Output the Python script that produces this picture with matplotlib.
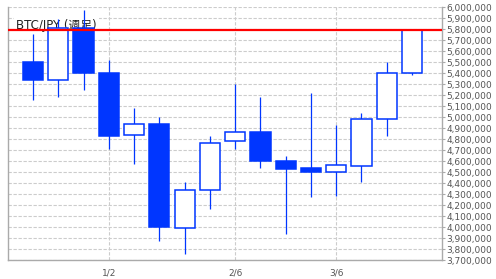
import numpy as np
import matplotlib
matplotlib.use('Agg')
from matplotlib import pyplot as plt
from matplotlib.ticker import FuncFormatter, MultipleLocator

plt.rcParams['font.family'] = ['DejaVu Sans', 'Noto Sans CJK JP']

# weekly BTC/JPY candles (week starting)
weeks = ['12/12', '12/19', '12/26', '1/2', '1/9', '1/16', '1/23', '1/30',
         '2/6', '2/13', '2/20', '2/27', '3/6', '3/13', '3/20', '3/27']
opens = [5500000, 5340000, 5810000, 5400000, 4835000, 4940000, 3990000, 4340000,
         4780000, 4870000, 4600000, 4540000, 4500000, 4560000, 4980000, 5400000]
closes = [5340000, 5810000, 5400000, 4830000, 4935000, 4000000, 4340000, 4770000,
          4870000, 4600000, 4530000, 4500000, 4565000, 4980000, 5400000, 5795000]
highs = [5760000, 5890000, 5975000, 5520000, 5085000, 5000000, 4410000, 4830000,
         5300000, 5180000, 4650000, 5220000, 4930000, 5040000, 5500000, 5795000]
lows = [5160000, 5180000, 5250000, 4710000, 4577000, 3876000, 3758000, 4167000,
        4713000, 4541000, 3940000, 4277000, 4285000, 4410000, 4829000, 5387000]
tick_weeks = ['1/2', '2/6', '3/6']
title = 'BTC/JPY (週足)'

blue = '#0036ff'
fig = plt.figure(figsize=(4.96, 2.79), dpi=100)
ax = fig.add_axes([0.0167, 0.067, 0.8745, 0.907])

x = np.arange(len(weeks))
o = np.array(opens)
c = np.array(closes)
up = c >= o

ax.vlines(x, lows, highs, color=blue, linewidth=0.9, zorder=3)
ax.bar(x, np.abs(c - o), bottom=np.minimum(o, c), width=0.8,
       color=np.where(up, 'white', blue), edgecolor=blue, linewidth=1.1, zorder=4)

# current price line
ax.axhline(closes[-1], color='#ff0000', linewidth=1.6, zorder=5)

ax.set_xlim(-0.98, len(weeks) + 0.19)
ax.set_ylim(3700000, 6000000)
ax.yaxis.set_major_locator(MultipleLocator(100000))
ax.yaxis.set_major_formatter(FuncFormatter(lambda v, p: '{:,}'.format(int(round(v)))))
ax.yaxis.tick_right()
ax.set_xticks([weeks.index(w) for w in tick_weeks])
ax.set_xticklabels(tick_weeks)

ax.grid(True, color='#cccccc', linestyle=(0, (3, 1.5)), linewidth=0.8, zorder=0)
ax.set_axisbelow(True)
for s in ['left', 'bottom', 'right']:
    ax.spines[s].set_color('#aaaaaa')
    ax.spines[s].set_linewidth(1.0)
ax.spines['top'].set_visible(False)
ax.tick_params(axis='y', length=2, width=0.8, color='#aaaaaa', pad=1,
               labelsize=6.5, labelcolor='#555555')
ax.tick_params(axis='x', length=0, pad=6, labelsize=6.5, labelcolor='#555555')

ax.text(0.018, 0.955, title, transform=ax.transAxes, fontsize=8.5,
        color='#222222', va='top', ha='left', zorder=2,
        bbox=dict(facecolor='white', edgecolor='none', pad=1.5))

fig.savefig('out.png', dpi=100)
